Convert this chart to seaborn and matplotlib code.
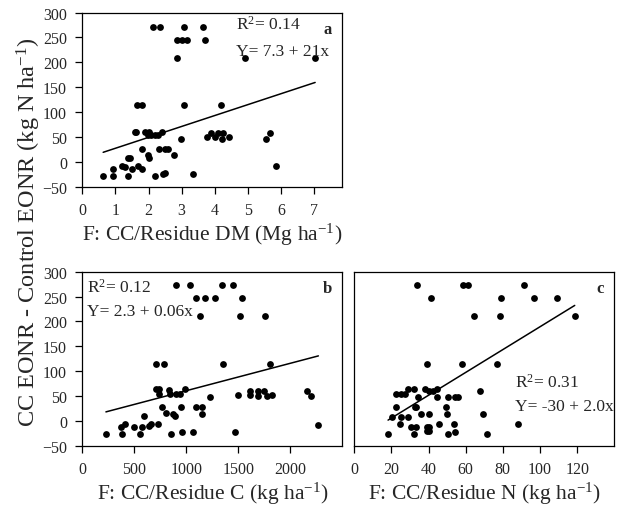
import numpy as np
import pandas as pd
import seaborn as sns
import matplotlib.pyplot as plt

# values
a_x = [2.14, 2.36, 3.06, 3.63,
       2.85, 3.0, 3.15, 3.69,
       2.87, 4.9, 7.03,
       1.65, 1.8, 3.07, 4.2,
       1.58, 1.62, 1.9, 2.0, 2.4,
       1.97, 2.08, 2.18, 2.28,
       2.98, 3.76, 3.89, 4.01, 4.11, 4.21, 4.26, 4.43, 5.54, 5.67,
       1.81, 2.32, 2.5, 2.6,
       2.76, 1.97, 2.02, 1.37, 1.45,
       1.19, 1.29, 1.51, 1.67, 1.79, 0.94, 5.84,
       0.63, 0.94, 1.39, 2.2, 2.45, 2.5, 3.35]
a_y = [272, 272, 272, 272,
       245, 245, 245, 245,
       209, 209, 209,
       115, 115, 115, 115,
       61, 61, 61, 61, 61,
       54, 54, 54, 54,
       47, 50, 58, 50, 58, 47, 58, 50, 47, 58,
       26, 26, 26, 26,
       14, 14, 8, 8, 8,
       -7, -10, -13, -7, -13, -14, -7,
       -27, -27, -27, -27, -24, -22, -24]

b_x = [904, 1032, 1341, 1450,
       1096, 1182, 1274, 1533,
       1134, 1517, 1760,
       712, 789, 1357, 1807,
       227, 370, 415, 383, 495, 556, 578, 591, 642, 661, 732,
       706, 735, 738, 767, 803, 830, 840, 872, 888, 850, 904, 935, 951, 961, 990,
       1095, 1150, 1150, 1063, 1223, 1469, 1501, 1613, 1613, 1690, 1693, 1743,
       1772, 1823, 2165, 2203, 2270]
b_y = [274, 274, 274, 274,
       247, 247, 247, 247,
       211, 211, 211,
       115, 115, 115, 115,
       -25, -11, -6, -26, -12, -26, -12, 10, -10, -6, -6,
       64, 64, 55, 28, 16, 63, 54, 15, 10, -26, 55, 55, 28, -22, 64,
       28, 28, 15, -22, 49, -22, 52, 60, 52, 60, 51, 60,
       51, 52, 60, 51, -8]

c_x = [33.7, 58.8, 61.3, 91.3,
       41.4, 78.8, 97, 109,
       64.4, 78.4, 118.7,
       39, 58.1, 76.7,
       22.6, 25.1, 27.5, 28.9, 32.1, 38.3, 40, 44.4, 42.3,
       34.2, 44.4, 50.5, 54.4, 56, 67.6,
       22.6, 32.5, 33.4, 49.2,
       20.5, 25.3, 28.9, 35.7, 40, 50, 69.4,
       24.8, 30.3, 33, 39, 40.5, 39, 40.5, 45.8, 53.5, 87.9,
       18.2, 32.1, 50.5, 54.4, 71.7]
c_y = [274, 274, 274, 274,
       247, 247, 247, 247,
       211, 211, 211,
       115, 115, 115,
       55, 55, 55, 64, 64, 64, 60, 64, 60,
       49, 49, 49, 49, 49, 60,
       28, 28, 28, 28,
       8, 8, 8, 15, 15, 15, 15,
       -6, -11, -11, -11, -11, -19, -19, -6, -6, -6,
       -25, -25, -25, -22, -25]

# fitted lines as drawn in the figure (intercept, slope)
fits = [(5.8, 21.9), (6.0, 0.055), (-39.7, 2.29)]

xlabels = ['F: CC/Residue DM (Mg ha$^{-1}$)',
           'F: CC/Residue C (kg ha$^{-1}$)',
           'F: CC/Residue N (kg ha$^{-1}$)']
stats = [('R$^{2}$= 0.14', 'Y= 7.3 + 21x'),
         ('R$^{2}$= 0.12', 'Y= 2.3 + 0.06x'),
         ('R$^{2}$= 0.31', 'Y= -30 + 2.0x')]
letters = ['a', 'b', 'c']

sns.set_style('ticks')
plt.rcParams['font.family'] = ['Liberation Serif', 'DejaVu Serif']
plt.rcParams['mathtext.fontset'] = 'custom'
plt.rcParams['mathtext.rm'] = 'Liberation Serif'
plt.rcParams['mathtext.default'] = 'regular'

fig = plt.figure(figsize=(6.17, 5.10), dpi=100)
ax_a = fig.add_axes([0.1334, 0.6314, 0.4214, 0.342])
ax_b = fig.add_axes([0.1334, 0.1235, 0.4214, 0.342])
ax_c = fig.add_axes([0.5742, 0.1235, 0.4214, 0.342])
axes = [ax_a, ax_b, ax_c]

data = [pd.DataFrame({'x': a_x, 'y': a_y}),
        pd.DataFrame({'x': b_x, 'y': b_y}),
        pd.DataFrame({'x': c_x, 'y': c_y})]
xlims = [(0, 7.85), (0, 2500), (0, 140)]
xticks = [np.arange(0, 8, 1), np.arange(0, 2001, 500), np.arange(0, 121, 20)]

# text positions in axes fractions: (R2 x, R2 y, eq y)
stat_pos = [(0.59, 0.935, 0.78), (0.017, 0.915, 0.775), (0.62, 0.37, 0.23)]

for i, ax in enumerate(axes):
    df = data[i]
    sns.scatterplot(data=df, x='x', y='y', ax=ax, color='black', s=24,
                    edgecolor='black', linewidth=0)
    b0, b1 = fits[i]
    xs = np.array([df['x'].min(), df['x'].max()])
    sns.lineplot(x=xs, y=b0 + b1 * xs, ax=ax, color='black', linewidth=1.1)
    ax.set_xlim(xlims[i])
    ax.set_ylim(-50, 300)
    ax.set_xticks(xticks[i])
    ax.set_yticks(np.arange(-50, 301, 50))
    ax.set_xlabel(xlabels[i], fontsize=15.5, labelpad=2)
    ax.set_ylabel('')
    for s in ax.spines.values():
        s.set_linewidth(0.9)
        s.set_color('black')
    ax.tick_params(axis='both', labelsize=11.5, length=5, width=0.9,
                   pad=6, color='black')
    ax.text(0.96, 0.905, letters[i], transform=ax.transAxes, fontsize=12,
            fontweight='bold', ha='right', va='center')
    px, py1, py2 = stat_pos[i]
    ax.text(px, py1, stats[i][0], transform=ax.transAxes, fontsize=12.5, va='center')
    ax.text(px, py2, stats[i][1], transform=ax.transAxes, fontsize=12.5, va='center')

ax_c.tick_params(axis='y', left=False, labelleft=False)

fig.text(0.047, 0.545, 'CC EONR - Control EONR (kg N ha$^{-1}$)', rotation=90,
         ha='center', va='center', fontsize=17.5)

fig.savefig('out.png', dpi=100)
